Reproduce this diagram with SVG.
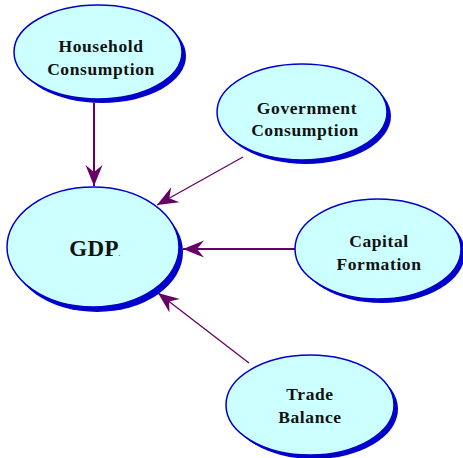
<svg xmlns="http://www.w3.org/2000/svg" width="463" height="458" viewBox="0 0 463 458">
<style>
.sh{fill:#0000cc;}
.el{fill:#ccffff;stroke:#0000cc;stroke-width:1.5;}
.t{font-family:"Liberation Serif","Times New Roman",serif;font-weight:bold;font-size:17.5px;fill:#111;text-anchor:middle;letter-spacing:0.6px;}
.c{stroke:#660066;fill:none;}
</style>
<defs>
<marker id="ah" markerUnits="userSpaceOnUse" markerWidth="26" markerHeight="20" viewBox="-22 -10 24 20" refX="0" refY="0" orient="auto">
<path d="M0,0 L-21,-8.5 L-14,0 L-21,8.5 Z" fill="#660066"/>
</marker>
</defs>
<g id="connectors">
<line class="c" x1="94" y1="103" x2="94" y2="186" stroke-width="2" marker-end="url(#ah)"/>
<line class="c" x1="243" y1="157" x2="157" y2="205" stroke-width="1.3" marker-end="url(#ah)"/>
<line class="c" x1="295" y1="249" x2="183" y2="249" stroke-width="2" marker-end="url(#ah)"/>
<line class="c" x1="249" y1="363" x2="158" y2="293" stroke-width="1.3" marker-end="url(#ah)"/>
</g>
<g id="household">
<ellipse class="sh" cx="102" cy="56" rx="84" ry="47"/>
<ellipse class="el" cx="98" cy="52" rx="84" ry="47"/>
<text class="t" x="101" y="52">Household</text>
<text class="t" x="101" y="75">Consumption</text>
</g>
<g id="gdp">
<ellipse class="sh" cx="97" cy="252" rx="86" ry="60"/>
<ellipse class="el" cx="93" cy="247" rx="86" ry="60"/>
<text class="t" x="95" y="256" style="font-size:23px;letter-spacing:0.3px">GDP<tspan style="font-size:6px">.</tspan></text>
</g>
<g id="government">
<ellipse class="sh" cx="306" cy="116" rx="85" ry="48"/>
<ellipse class="el" cx="302" cy="112" rx="85" ry="48"/>
<text class="t" x="307" y="114">Government</text>
<text class="t" x="305" y="136">Consumption</text>
</g>
<g id="capital">
<ellipse class="sh" cx="382" cy="253" rx="83" ry="50"/>
<ellipse class="el" cx="378" cy="249" rx="83" ry="50"/>
<text class="t" x="379" y="247">Capital</text>
<text class="t" x="379" y="270">Formation</text>
</g>
<g id="trade">
<ellipse class="sh" cx="314" cy="409" rx="84" ry="50"/>
<ellipse class="el" cx="310" cy="405" rx="84" ry="50"/>
<text class="t" x="310" y="400">Trade</text>
<text class="t" x="310" y="423">Balance</text>
</g>
</svg>
